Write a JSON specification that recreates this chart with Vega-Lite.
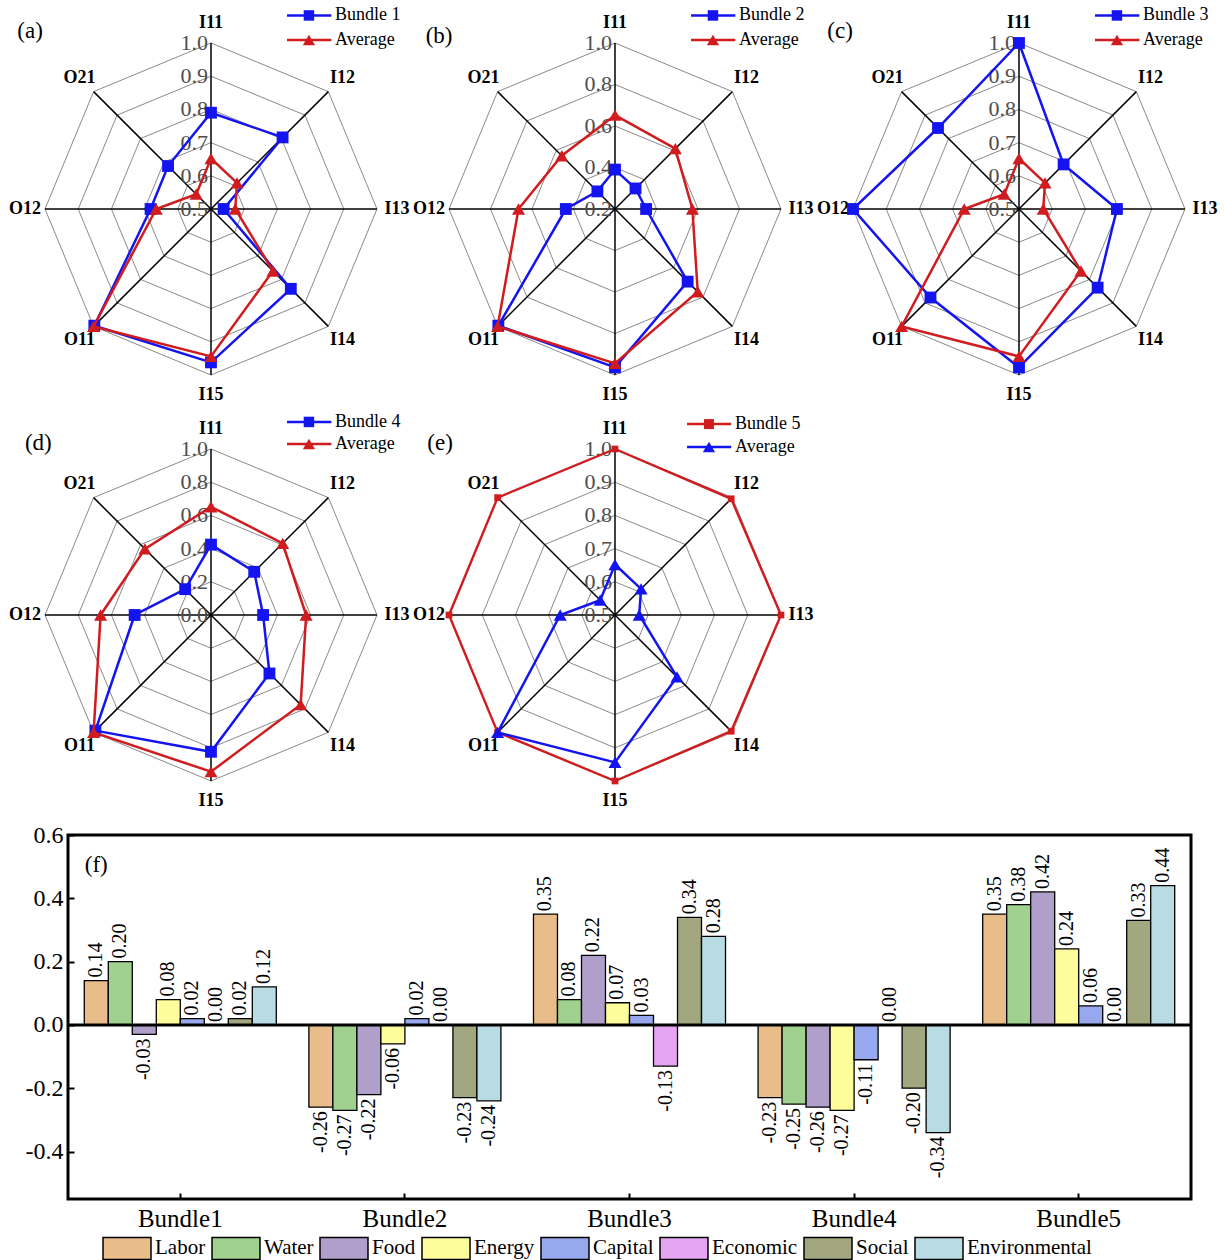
{
"$schema": "https://vega.github.io/schema/vega-lite/v6.json",
"autosize": {"type": "pad"},
"padding": 0,
"background": "white",
"spacing": 0,
"config": {
  "view": {"stroke": null, "fill": "transparent"},
  "font": "Liberation Serif",
  "locale": {"number": {"decimal": ".", "thousands": ",", "grouping": [3], "currency": ["$", ""], "minus": "-"}}
},
"datasets": {
  "axes": [{"axis":"I11"},{"axis":"I12"},{"axis":"I13"},{"axis":"I14"},{"axis":"I15"},{"axis":"O11"},{"axis":"O12"},{"axis":"O21"}],
  "levels": [
    {"panel":"a","level":0.5,"axis":["I11","I12","I13","I14","I15","O11","O12","O21"]},
    {"panel":"a","level":0.6,"axis":["I11","I12","I13","I14","I15","O11","O12","O21"]},
    {"panel":"a","level":0.7,"axis":["I11","I12","I13","I14","I15","O11","O12","O21"]},
    {"panel":"a","level":0.8,"axis":["I11","I12","I13","I14","I15","O11","O12","O21"]},
    {"panel":"a","level":0.9,"axis":["I11","I12","I13","I14","I15","O11","O12","O21"]},
    {"panel":"a","level":1.0,"axis":["I11","I12","I13","I14","I15","O11","O12","O21"]},
    {"panel":"b","level":0.2,"axis":["I11","I12","I13","I14","I15","O11","O12","O21"]},
    {"panel":"b","level":0.4,"axis":["I11","I12","I13","I14","I15","O11","O12","O21"]},
    {"panel":"b","level":0.6,"axis":["I11","I12","I13","I14","I15","O11","O12","O21"]},
    {"panel":"b","level":0.8,"axis":["I11","I12","I13","I14","I15","O11","O12","O21"]},
    {"panel":"b","level":1.0,"axis":["I11","I12","I13","I14","I15","O11","O12","O21"]},
    {"panel":"c","level":0.5,"axis":["I11","I12","I13","I14","I15","O11","O12","O21"]},
    {"panel":"c","level":0.6,"axis":["I11","I12","I13","I14","I15","O11","O12","O21"]},
    {"panel":"c","level":0.7,"axis":["I11","I12","I13","I14","I15","O11","O12","O21"]},
    {"panel":"c","level":0.8,"axis":["I11","I12","I13","I14","I15","O11","O12","O21"]},
    {"panel":"c","level":0.9,"axis":["I11","I12","I13","I14","I15","O11","O12","O21"]},
    {"panel":"c","level":1.0,"axis":["I11","I12","I13","I14","I15","O11","O12","O21"]},
    {"panel":"d","level":0.0,"axis":["I11","I12","I13","I14","I15","O11","O12","O21"]},
    {"panel":"d","level":0.2,"axis":["I11","I12","I13","I14","I15","O11","O12","O21"]},
    {"panel":"d","level":0.4,"axis":["I11","I12","I13","I14","I15","O11","O12","O21"]},
    {"panel":"d","level":0.6,"axis":["I11","I12","I13","I14","I15","O11","O12","O21"]},
    {"panel":"d","level":0.8,"axis":["I11","I12","I13","I14","I15","O11","O12","O21"]},
    {"panel":"d","level":1.0,"axis":["I11","I12","I13","I14","I15","O11","O12","O21"]},
    {"panel":"e","level":0.5,"axis":["I11","I12","I13","I14","I15","O11","O12","O21"]},
    {"panel":"e","level":0.6,"axis":["I11","I12","I13","I14","I15","O11","O12","O21"]},
    {"panel":"e","level":0.7,"axis":["I11","I12","I13","I14","I15","O11","O12","O21"]},
    {"panel":"e","level":0.8,"axis":["I11","I12","I13","I14","I15","O11","O12","O21"]},
    {"panel":"e","level":0.9,"axis":["I11","I12","I13","I14","I15","O11","O12","O21"]},
    {"panel":"e","level":1.0,"axis":["I11","I12","I13","I14","I15","O11","O12","O21"]}
  ],
  "scores": [
    {"panel":"a","series":"Bundle 1","axis":"I11","value":0.79},
    {"panel":"a","series":"Bundle 1","axis":"I12","value":0.805},
    {"panel":"a","series":"Bundle 1","axis":"I13","value":0.538},
    {"panel":"a","series":"Bundle 1","axis":"I14","value":0.84},
    {"panel":"a","series":"Bundle 1","axis":"I15","value":0.962},
    {"panel":"a","series":"Bundle 1","axis":"O11","value":0.997},
    {"panel":"a","series":"Bundle 1","axis":"O12","value":0.682},
    {"panel":"a","series":"Bundle 1","axis":"O21","value":0.683},
    {"panel":"a","series":"Average","axis":"I11","value":0.652},
    {"panel":"a","series":"Average","axis":"I12","value":0.611},
    {"panel":"a","series":"Average","axis":"I13","value":0.573},
    {"panel":"a","series":"Average","axis":"I14","value":0.764},
    {"panel":"a","series":"Average","axis":"I15","value":0.944},
    {"panel":"a","series":"Average","axis":"O11","value":1.0},
    {"panel":"a","series":"Average","axis":"O12","value":0.665},
    {"panel":"a","series":"Average","axis":"O21","value":0.563},
    {"panel":"b","series":"Bundle 2","axis":"I11","value":0.39},
    {"panel":"b","series":"Bundle 2","axis":"I12","value":0.34},
    {"panel":"b","series":"Bundle 2","axis":"I13","value":0.35},
    {"panel":"b","series":"Bundle 2","axis":"I14","value":0.695},
    {"panel":"b","series":"Bundle 2","axis":"I15","value":0.963},
    {"panel":"b","series":"Bundle 2","axis":"O11","value":0.995},
    {"panel":"b","series":"Bundle 2","axis":"O12","value":0.437},
    {"panel":"b","series":"Bundle 2","axis":"O21","value":0.32},
    {"panel":"b","series":"Average","axis":"I11","value":0.652},
    {"panel":"b","series":"Average","axis":"I12","value":0.611},
    {"panel":"b","series":"Average","axis":"I13","value":0.573},
    {"panel":"b","series":"Average","axis":"I14","value":0.764},
    {"panel":"b","series":"Average","axis":"I15","value":0.944},
    {"panel":"b","series":"Average","axis":"O11","value":1.0},
    {"panel":"b","series":"Average","axis":"O12","value":0.665},
    {"panel":"b","series":"Average","axis":"O21","value":0.563},
    {"panel":"c","series":"Bundle 3","axis":"I11","value":1.0},
    {"panel":"c","series":"Bundle 3","axis":"I12","value":0.69},
    {"panel":"c","series":"Bundle 3","axis":"I13","value":0.795},
    {"panel":"c","series":"Bundle 3","axis":"I14","value":0.835},
    {"panel":"c","series":"Bundle 3","axis":"I15","value":0.977},
    {"panel":"c","series":"Bundle 3","axis":"O11","value":0.877},
    {"panel":"c","series":"Bundle 3","axis":"O12","value":1.0},
    {"panel":"c","series":"Bundle 3","axis":"O21","value":0.845},
    {"panel":"c","series":"Average","axis":"I11","value":0.652},
    {"panel":"c","series":"Average","axis":"I12","value":0.611},
    {"panel":"c","series":"Average","axis":"I13","value":0.573},
    {"panel":"c","series":"Average","axis":"I14","value":0.764},
    {"panel":"c","series":"Average","axis":"I15","value":0.944},
    {"panel":"c","series":"Average","axis":"O11","value":1.0},
    {"panel":"c","series":"Average","axis":"O12","value":0.665},
    {"panel":"c","series":"Average","axis":"O21","value":0.563},
    {"panel":"d","series":"Bundle 4","axis":"I11","value":0.424},
    {"panel":"d","series":"Bundle 4","axis":"I12","value":0.368},
    {"panel":"d","series":"Bundle 4","axis":"I13","value":0.314},
    {"panel":"d","series":"Bundle 4","axis":"I14","value":0.498},
    {"panel":"d","series":"Bundle 4","axis":"I15","value":0.824},
    {"panel":"d","series":"Bundle 4","axis":"O11","value":0.985},
    {"panel":"d","series":"Bundle 4","axis":"O12","value":0.46},
    {"panel":"d","series":"Bundle 4","axis":"O21","value":0.22},
    {"panel":"d","series":"Average","axis":"I11","value":0.652},
    {"panel":"d","series":"Average","axis":"I12","value":0.611},
    {"panel":"d","series":"Average","axis":"I13","value":0.573},
    {"panel":"d","series":"Average","axis":"I14","value":0.764},
    {"panel":"d","series":"Average","axis":"I15","value":0.944},
    {"panel":"d","series":"Average","axis":"O11","value":1.0},
    {"panel":"d","series":"Average","axis":"O12","value":0.665},
    {"panel":"d","series":"Average","axis":"O21","value":0.563},
    {"panel":"e","series":"Bundle 5","axis":"I11","value":1.0},
    {"panel":"e","series":"Bundle 5","axis":"I12","value":0.995},
    {"panel":"e","series":"Bundle 5","axis":"I13","value":1.0},
    {"panel":"e","series":"Bundle 5","axis":"I14","value":0.995},
    {"panel":"e","series":"Bundle 5","axis":"I15","value":1.0},
    {"panel":"e","series":"Bundle 5","axis":"O11","value":1.0},
    {"panel":"e","series":"Bundle 5","axis":"O12","value":1.0},
    {"panel":"e","series":"Bundle 5","axis":"O21","value":1.0},
    {"panel":"e","series":"Average","axis":"I11","value":0.652},
    {"panel":"e","series":"Average","axis":"I12","value":0.611},
    {"panel":"e","series":"Average","axis":"I13","value":0.573},
    {"panel":"e","series":"Average","axis":"I14","value":0.764},
    {"panel":"e","series":"Average","axis":"I15","value":0.944},
    {"panel":"e","series":"Average","axis":"O11","value":1.0},
    {"panel":"e","series":"Average","axis":"O12","value":0.665},
    {"panel":"e","series":"Average","axis":"O21","value":0.563}
  ],
  "bars": [
    {"bundle":"Bundle1","category":"Labor","value":0.14},
    {"bundle":"Bundle1","category":"Water","value":0.20},
    {"bundle":"Bundle1","category":"Food","value":-0.03},
    {"bundle":"Bundle1","category":"Energy","value":0.08},
    {"bundle":"Bundle1","category":"Capital","value":0.02},
    {"bundle":"Bundle1","category":"Economic","value":0.00},
    {"bundle":"Bundle1","category":"Social","value":0.02},
    {"bundle":"Bundle1","category":"Environmental","value":0.12},
    {"bundle":"Bundle2","category":"Labor","value":-0.26},
    {"bundle":"Bundle2","category":"Water","value":-0.27},
    {"bundle":"Bundle2","category":"Food","value":-0.22},
    {"bundle":"Bundle2","category":"Energy","value":-0.06},
    {"bundle":"Bundle2","category":"Capital","value":0.02},
    {"bundle":"Bundle2","category":"Economic","value":0.00},
    {"bundle":"Bundle2","category":"Social","value":-0.23},
    {"bundle":"Bundle2","category":"Environmental","value":-0.24},
    {"bundle":"Bundle3","category":"Labor","value":0.35},
    {"bundle":"Bundle3","category":"Water","value":0.08},
    {"bundle":"Bundle3","category":"Food","value":0.22},
    {"bundle":"Bundle3","category":"Energy","value":0.07},
    {"bundle":"Bundle3","category":"Capital","value":0.03},
    {"bundle":"Bundle3","category":"Economic","value":-0.13},
    {"bundle":"Bundle3","category":"Social","value":0.34},
    {"bundle":"Bundle3","category":"Environmental","value":0.28},
    {"bundle":"Bundle4","category":"Labor","value":-0.23},
    {"bundle":"Bundle4","category":"Water","value":-0.25},
    {"bundle":"Bundle4","category":"Food","value":-0.26},
    {"bundle":"Bundle4","category":"Energy","value":-0.27},
    {"bundle":"Bundle4","category":"Capital","value":-0.11},
    {"bundle":"Bundle4","category":"Economic","value":0.00},
    {"bundle":"Bundle4","category":"Social","value":-0.20},
    {"bundle":"Bundle4","category":"Environmental","value":-0.34},
    {"bundle":"Bundle5","category":"Labor","value":0.35},
    {"bundle":"Bundle5","category":"Water","value":0.38},
    {"bundle":"Bundle5","category":"Food","value":0.42},
    {"bundle":"Bundle5","category":"Energy","value":0.24},
    {"bundle":"Bundle5","category":"Capital","value":0.06},
    {"bundle":"Bundle5","category":"Economic","value":0.00},
    {"bundle":"Bundle5","category":"Social","value":0.33},
    {"bundle":"Bundle5","category":"Environmental","value":0.44}
  ]
},
"vconcat": [
 {"hconcat": [
  {"width": 404, "height": 406,
   "encoding": {
     "x": {"field":"px","type":"quantitative","scale":{"domain":[-1.2711,1.1627],"nice":false,"zero":false},"axis":null},
     "y": {"field":"py","type":"quantitative","scale":{"domain":[-1.1867,1.259],"nice":false,"zero":false},"axis":null}
   },
   "layer": [
    {"data":{"name":"levels"},
     "transform":[{"filter":"datum.panel == 'a' && datum.level > 0.5"},{"flatten":["axis"]},
       {"calculate":"indexof(['I11','I12','I13','I14','I15','O11','O12','O21'], datum.axis)","as":"gi"},
       {"calculate":"(datum.level - 0.5) / 0.5 * sin(datum.gi * PI / 4)","as":"gx"},
       {"calculate":"(datum.level - 0.5) / 0.5 * cos(datum.gi * PI / 4)","as":"gy"}],
     "mark":{"type":"line","interpolate":"linear-closed","color":"#8a8a8a","strokeWidth":1},
     "encoding":{"x":{"field":"gx","type":"quantitative","axis":null},"y":{"field":"gy","type":"quantitative","axis":null},"detail":{"field":"level","type":"nominal"},"order":{"field":"gi","type":"quantitative"}}},
    {"data":{"name":"axes"},
     "transform":[{"calculate":"indexof(['I11','I12','I13','I14','I15','O11','O12','O21'], datum.axis)","as":"si"},
       {"calculate":"0","as":"so"},{"calculate":"sin(datum.si * PI / 4)","as":"sx"},{"calculate":"cos(datum.si * PI / 4)","as":"sy"}],
     "mark":{"type":"rule","color":"black","strokeWidth":1.5},
     "encoding":{"x":{"field":"so","type":"quantitative","axis":null},"y":{"field":"so","type":"quantitative","axis":null},"x2":{"field":"sx"},"y2":{"field":"sy"}}},
    {"data":{"name":"levels"},
     "transform":[{"filter":"datum.panel == 'a'"},{"calculate":"0","as":"tx"},{"calculate":"(datum.level - 0.5) / 0.5","as":"ty"}],
     "mark":{"type":"text","align":"right","baseline":"middle","dx":-3,"font":"Liberation Serif","fontSize":22,"color":"#4d4d4d"},
     "encoding":{"x":{"field":"tx","type":"quantitative","axis":null},"y":{"field":"ty","type":"quantitative","axis":null},"text":{"field":"level","type":"quantitative","format":".1f"}}},
    {"data":{"name":"axes"},
     "transform":[{"calculate":"indexof(['I11','I12','I13','I14','I15','O11','O12','O21'], datum.axis)","as":"li"},
       {"calculate":"1.12 * sin(datum.li * PI / 4)","as":"lx"},{"calculate":"1.12 * cos(datum.li * PI / 4)","as":"ly"}],
     "mark":{"type":"text","align":"center","baseline":"middle","font":"Liberation Serif","fontSize":18,"fontWeight":"bold","color":"black"},
     "encoding":{"x":{"field":"lx","type":"quantitative","axis":null},"y":{"field":"ly","type":"quantitative","axis":null},"text":{"field":"axis","type":"nominal"}}},
    {"data":{"name":"scores"},
     "transform":[{"filter":"datum.panel == 'a'"},
       {"calculate":"indexof(['I11','I12','I13','I14','I15','O11','O12','O21'], datum.axis)","as":"idx"},
       {"calculate":"(datum.value - 0.5) / 0.5","as":"r"},
       {"calculate":"datum.r * sin(datum.idx * PI / 4)","as":"px"},
       {"calculate":"datum.r * cos(datum.idx * PI / 4)","as":"py"}],
     "layer":[
       {"transform":[{"filter":"datum.series != 'Average'"}],"mark":{"type":"line","interpolate":"linear-closed","color":"#1414F0","strokeWidth":2.5},"encoding":{"order":{"field":"idx","type":"quantitative"}}},
       {"transform":[{"filter":"datum.series != 'Average'"}],"mark":{"type":"point","shape":"square","filled":true,"size":140,"color":"#1414F0","opacity":1}},
       {"transform":[{"filter":"datum.series == 'Average'"}],"mark":{"type":"line","interpolate":"linear-closed","color":"#D01C1F","strokeWidth":2.5},"encoding":{"order":{"field":"idx","type":"quantitative"}}},
       {"transform":[{"filter":"datum.series == 'Average'"}],"mark":{"type":"point","shape":"triangle-up","filled":true,"size":170,"color":"#D01C1F","opacity":1}}
     ]},
    {"data":{"values":[{"bundle":"Bundle 1","average":"Average","tag":"(a)"}]},
     "transform":[{"calculate":"0.458","as":"k1"},{"calculate":"0.725","as":"k2"},{"calculate":"0.59","as":"km"},{"calculate":"0.747","as":"kt"},
       {"calculate":"1.166","as":"kb"},{"calculate":"1.018","as":"ka"},{"calculate":"-1.09","as":"kx"},{"calculate":"1.07","as":"ky"}],
     "layer":[
       {"mark":{"type":"rule","color":"#1414F0","strokeWidth":2.5},"encoding":{"x":{"field":"k1","type":"quantitative","axis":null},"x2":{"field":"k2"},"y":{"field":"kb","type":"quantitative","axis":null}}},
       {"mark":{"type":"point","shape":"square","filled":true,"size":110,"color":"#1414F0","opacity":1},"encoding":{"x":{"field":"km","type":"quantitative","axis":null},"y":{"field":"kb","type":"quantitative","axis":null}}},
       {"mark":{"type":"text","align":"left","baseline":"middle","font":"Liberation Serif","fontSize":18,"color":"black"},"encoding":{"x":{"field":"kt","type":"quantitative","axis":null},"y":{"field":"kb","type":"quantitative","axis":null},"text":{"field":"bundle","type":"nominal"}}},
       {"mark":{"type":"rule","color":"#D01C1F","strokeWidth":2.5},"encoding":{"x":{"field":"k1","type":"quantitative","axis":null},"x2":{"field":"k2"},"y":{"field":"ka","type":"quantitative","axis":null}}},
       {"mark":{"type":"point","shape":"triangle-up","filled":true,"size":150,"color":"#D01C1F","opacity":1},"encoding":{"x":{"field":"km","type":"quantitative","axis":null},"y":{"field":"ka","type":"quantitative","axis":null}}},
       {"mark":{"type":"text","align":"left","baseline":"middle","font":"Liberation Serif","fontSize":18,"color":"black"},"encoding":{"x":{"field":"kt","type":"quantitative","axis":null},"y":{"field":"ka","type":"quantitative","axis":null},"text":{"field":"average","type":"nominal"}}},
       {"mark":{"type":"text","align":"center","baseline":"middle","font":"Liberation Serif","fontSize":23,"color":"black"},"encoding":{"x":{"field":"kx","type":"quantitative","axis":null},"y":{"field":"ky","type":"quantitative","axis":null},"text":{"field":"tag","type":"nominal"}}}
     ]}
   ]},
  {"width": 404, "height": 406,
   "encoding": {
     "x": {"field":"px","type":"quantitative","scale":{"domain":[-1.2711,1.1627],"nice":false,"zero":false},"axis":null},
     "y": {"field":"py","type":"quantitative","scale":{"domain":[-1.1867,1.259],"nice":false,"zero":false},"axis":null}
   },
   "layer": [
    {"data":{"name":"levels"},
     "transform":[{"filter":"datum.panel == 'b' && datum.level > 0.2"},{"flatten":["axis"]},
       {"calculate":"indexof(['I11','I12','I13','I14','I15','O11','O12','O21'], datum.axis)","as":"gi"},
       {"calculate":"(datum.level - 0.2) / 0.8 * sin(datum.gi * PI / 4)","as":"gx"},
       {"calculate":"(datum.level - 0.2) / 0.8 * cos(datum.gi * PI / 4)","as":"gy"}],
     "mark":{"type":"line","interpolate":"linear-closed","color":"#8a8a8a","strokeWidth":1},
     "encoding":{"x":{"field":"gx","type":"quantitative","axis":null},"y":{"field":"gy","type":"quantitative","axis":null},"detail":{"field":"level","type":"nominal"},"order":{"field":"gi","type":"quantitative"}}},
    {"data":{"name":"axes"},
     "transform":[{"calculate":"indexof(['I11','I12','I13','I14','I15','O11','O12','O21'], datum.axis)","as":"si"},
       {"calculate":"0","as":"so"},{"calculate":"sin(datum.si * PI / 4)","as":"sx"},{"calculate":"cos(datum.si * PI / 4)","as":"sy"}],
     "mark":{"type":"rule","color":"black","strokeWidth":1.5},
     "encoding":{"x":{"field":"so","type":"quantitative","axis":null},"y":{"field":"so","type":"quantitative","axis":null},"x2":{"field":"sx"},"y2":{"field":"sy"}}},
    {"data":{"name":"levels"},
     "transform":[{"filter":"datum.panel == 'b'"},{"calculate":"0","as":"tx"},{"calculate":"(datum.level - 0.2) / 0.8","as":"ty"}],
     "mark":{"type":"text","align":"right","baseline":"middle","dx":-3,"font":"Liberation Serif","fontSize":22,"color":"#4d4d4d"},
     "encoding":{"x":{"field":"tx","type":"quantitative","axis":null},"y":{"field":"ty","type":"quantitative","axis":null},"text":{"field":"level","type":"quantitative","format":".1f"}}},
    {"data":{"name":"axes"},
     "transform":[{"calculate":"indexof(['I11','I12','I13','I14','I15','O11','O12','O21'], datum.axis)","as":"li"},
       {"calculate":"1.12 * sin(datum.li * PI / 4)","as":"lx"},{"calculate":"1.12 * cos(datum.li * PI / 4)","as":"ly"}],
     "mark":{"type":"text","align":"center","baseline":"middle","font":"Liberation Serif","fontSize":18,"fontWeight":"bold","color":"black"},
     "encoding":{"x":{"field":"lx","type":"quantitative","axis":null},"y":{"field":"ly","type":"quantitative","axis":null},"text":{"field":"axis","type":"nominal"}}},
    {"data":{"name":"scores"},
     "transform":[{"filter":"datum.panel == 'b'"},
       {"calculate":"indexof(['I11','I12','I13','I14','I15','O11','O12','O21'], datum.axis)","as":"idx"},
       {"calculate":"(datum.value - 0.2) / 0.8","as":"r"},
       {"calculate":"datum.r * sin(datum.idx * PI / 4)","as":"px"},
       {"calculate":"datum.r * cos(datum.idx * PI / 4)","as":"py"}],
     "layer":[
       {"transform":[{"filter":"datum.series != 'Average'"}],"mark":{"type":"line","interpolate":"linear-closed","color":"#1414F0","strokeWidth":2.5},"encoding":{"order":{"field":"idx","type":"quantitative"}}},
       {"transform":[{"filter":"datum.series != 'Average'"}],"mark":{"type":"point","shape":"square","filled":true,"size":140,"color":"#1414F0","opacity":1}},
       {"transform":[{"filter":"datum.series == 'Average'"}],"mark":{"type":"line","interpolate":"linear-closed","color":"#D01C1F","strokeWidth":2.5},"encoding":{"order":{"field":"idx","type":"quantitative"}}},
       {"transform":[{"filter":"datum.series == 'Average'"}],"mark":{"type":"point","shape":"triangle-up","filled":true,"size":170,"color":"#D01C1F","opacity":1}}
     ]},
    {"data":{"values":[{"bundle":"Bundle 2","average":"Average","tag":"(b)"}]},
     "transform":[{"calculate":"0.458","as":"k1"},{"calculate":"0.725","as":"k2"},{"calculate":"0.59","as":"km"},{"calculate":"0.747","as":"kt"},
       {"calculate":"1.166","as":"kb"},{"calculate":"1.018","as":"ka"},{"calculate":"-1.06","as":"kx"},{"calculate":"1.04","as":"ky"}],
     "layer":[
       {"mark":{"type":"rule","color":"#1414F0","strokeWidth":2.5},"encoding":{"x":{"field":"k1","type":"quantitative","axis":null},"x2":{"field":"k2"},"y":{"field":"kb","type":"quantitative","axis":null}}},
       {"mark":{"type":"point","shape":"square","filled":true,"size":110,"color":"#1414F0","opacity":1},"encoding":{"x":{"field":"km","type":"quantitative","axis":null},"y":{"field":"kb","type":"quantitative","axis":null}}},
       {"mark":{"type":"text","align":"left","baseline":"middle","font":"Liberation Serif","fontSize":18,"color":"black"},"encoding":{"x":{"field":"kt","type":"quantitative","axis":null},"y":{"field":"kb","type":"quantitative","axis":null},"text":{"field":"bundle","type":"nominal"}}},
       {"mark":{"type":"rule","color":"#D01C1F","strokeWidth":2.5},"encoding":{"x":{"field":"k1","type":"quantitative","axis":null},"x2":{"field":"k2"},"y":{"field":"ka","type":"quantitative","axis":null}}},
       {"mark":{"type":"point","shape":"triangle-up","filled":true,"size":150,"color":"#D01C1F","opacity":1},"encoding":{"x":{"field":"km","type":"quantitative","axis":null},"y":{"field":"ka","type":"quantitative","axis":null}}},
       {"mark":{"type":"text","align":"left","baseline":"middle","font":"Liberation Serif","fontSize":18,"color":"black"},"encoding":{"x":{"field":"kt","type":"quantitative","axis":null},"y":{"field":"ka","type":"quantitative","axis":null},"text":{"field":"average","type":"nominal"}}},
       {"mark":{"type":"text","align":"center","baseline":"middle","font":"Liberation Serif","fontSize":23,"color":"black"},"encoding":{"x":{"field":"kx","type":"quantitative","axis":null},"y":{"field":"ky","type":"quantitative","axis":null},"text":{"field":"tag","type":"nominal"}}}
     ]}
   ]},
  {"width": 404, "height": 406,
   "encoding": {
     "x": {"field":"px","type":"quantitative","scale":{"domain":[-1.2711,1.1627],"nice":false,"zero":false},"axis":null},
     "y": {"field":"py","type":"quantitative","scale":{"domain":[-1.1867,1.259],"nice":false,"zero":false},"axis":null}
   },
   "layer": [
    {"data":{"name":"levels"},
     "transform":[{"filter":"datum.panel == 'c' && datum.level > 0.5"},{"flatten":["axis"]},
       {"calculate":"indexof(['I11','I12','I13','I14','I15','O11','O12','O21'], datum.axis)","as":"gi"},
       {"calculate":"(datum.level - 0.5) / 0.5 * sin(datum.gi * PI / 4)","as":"gx"},
       {"calculate":"(datum.level - 0.5) / 0.5 * cos(datum.gi * PI / 4)","as":"gy"}],
     "mark":{"type":"line","interpolate":"linear-closed","color":"#8a8a8a","strokeWidth":1},
     "encoding":{"x":{"field":"gx","type":"quantitative","axis":null},"y":{"field":"gy","type":"quantitative","axis":null},"detail":{"field":"level","type":"nominal"},"order":{"field":"gi","type":"quantitative"}}},
    {"data":{"name":"axes"},
     "transform":[{"calculate":"indexof(['I11','I12','I13','I14','I15','O11','O12','O21'], datum.axis)","as":"si"},
       {"calculate":"0","as":"so"},{"calculate":"sin(datum.si * PI / 4)","as":"sx"},{"calculate":"cos(datum.si * PI / 4)","as":"sy"}],
     "mark":{"type":"rule","color":"black","strokeWidth":1.5},
     "encoding":{"x":{"field":"so","type":"quantitative","axis":null},"y":{"field":"so","type":"quantitative","axis":null},"x2":{"field":"sx"},"y2":{"field":"sy"}}},
    {"data":{"name":"levels"},
     "transform":[{"filter":"datum.panel == 'c'"},{"calculate":"0","as":"tx"},{"calculate":"(datum.level - 0.5) / 0.5","as":"ty"}],
     "mark":{"type":"text","align":"right","baseline":"middle","dx":-3,"font":"Liberation Serif","fontSize":22,"color":"#4d4d4d"},
     "encoding":{"x":{"field":"tx","type":"quantitative","axis":null},"y":{"field":"ty","type":"quantitative","axis":null},"text":{"field":"level","type":"quantitative","format":".1f"}}},
    {"data":{"name":"axes"},
     "transform":[{"calculate":"indexof(['I11','I12','I13','I14','I15','O11','O12','O21'], datum.axis)","as":"li"},
       {"calculate":"1.12 * sin(datum.li * PI / 4)","as":"lx"},{"calculate":"1.12 * cos(datum.li * PI / 4)","as":"ly"}],
     "mark":{"type":"text","align":"center","baseline":"middle","font":"Liberation Serif","fontSize":18,"fontWeight":"bold","color":"black"},
     "encoding":{"x":{"field":"lx","type":"quantitative","axis":null},"y":{"field":"ly","type":"quantitative","axis":null},"text":{"field":"axis","type":"nominal"}}},
    {"data":{"name":"scores"},
     "transform":[{"filter":"datum.panel == 'c'"},
       {"calculate":"indexof(['I11','I12','I13','I14','I15','O11','O12','O21'], datum.axis)","as":"idx"},
       {"calculate":"(datum.value - 0.5) / 0.5","as":"r"},
       {"calculate":"datum.r * sin(datum.idx * PI / 4)","as":"px"},
       {"calculate":"datum.r * cos(datum.idx * PI / 4)","as":"py"}],
     "layer":[
       {"transform":[{"filter":"datum.series != 'Average'"}],"mark":{"type":"line","interpolate":"linear-closed","color":"#1414F0","strokeWidth":2.5},"encoding":{"order":{"field":"idx","type":"quantitative"}}},
       {"transform":[{"filter":"datum.series != 'Average'"}],"mark":{"type":"point","shape":"square","filled":true,"size":140,"color":"#1414F0","opacity":1}},
       {"transform":[{"filter":"datum.series == 'Average'"}],"mark":{"type":"line","interpolate":"linear-closed","color":"#D01C1F","strokeWidth":2.5},"encoding":{"order":{"field":"idx","type":"quantitative"}}},
       {"transform":[{"filter":"datum.series == 'Average'"}],"mark":{"type":"point","shape":"triangle-up","filled":true,"size":170,"color":"#D01C1F","opacity":1}}
     ]},
    {"data":{"values":[{"bundle":"Bundle 3","average":"Average","tag":"(c)"}]},
     "transform":[{"calculate":"0.458","as":"k1"},{"calculate":"0.725","as":"k2"},{"calculate":"0.59","as":"km"},{"calculate":"0.747","as":"kt"},
       {"calculate":"1.166","as":"kb"},{"calculate":"1.018","as":"ka"},{"calculate":"-1.078","as":"kx"},{"calculate":"1.07","as":"ky"}],
     "layer":[
       {"mark":{"type":"rule","color":"#1414F0","strokeWidth":2.5},"encoding":{"x":{"field":"k1","type":"quantitative","axis":null},"x2":{"field":"k2"},"y":{"field":"kb","type":"quantitative","axis":null}}},
       {"mark":{"type":"point","shape":"square","filled":true,"size":110,"color":"#1414F0","opacity":1},"encoding":{"x":{"field":"km","type":"quantitative","axis":null},"y":{"field":"kb","type":"quantitative","axis":null}}},
       {"mark":{"type":"text","align":"left","baseline":"middle","font":"Liberation Serif","fontSize":18,"color":"black"},"encoding":{"x":{"field":"kt","type":"quantitative","axis":null},"y":{"field":"kb","type":"quantitative","axis":null},"text":{"field":"bundle","type":"nominal"}}},
       {"mark":{"type":"rule","color":"#D01C1F","strokeWidth":2.5},"encoding":{"x":{"field":"k1","type":"quantitative","axis":null},"x2":{"field":"k2"},"y":{"field":"ka","type":"quantitative","axis":null}}},
       {"mark":{"type":"point","shape":"triangle-up","filled":true,"size":150,"color":"#D01C1F","opacity":1},"encoding":{"x":{"field":"km","type":"quantitative","axis":null},"y":{"field":"ka","type":"quantitative","axis":null}}},
       {"mark":{"type":"text","align":"left","baseline":"middle","font":"Liberation Serif","fontSize":18,"color":"black"},"encoding":{"x":{"field":"kt","type":"quantitative","axis":null},"y":{"field":"ka","type":"quantitative","axis":null},"text":{"field":"average","type":"nominal"}}},
       {"mark":{"type":"text","align":"center","baseline":"middle","font":"Liberation Serif","fontSize":23,"color":"black"},"encoding":{"x":{"field":"kx","type":"quantitative","axis":null},"y":{"field":"ky","type":"quantitative","axis":null},"text":{"field":"tag","type":"nominal"}}}
     ]}
   ]}
 ], "spacing": 0, "bounds": "flush"},
 {"hconcat": [
  {"width": 404, "height": 415,
   "encoding": {
     "x": {"field":"px","type":"quantitative","scale":{"domain":[-1.2711,1.1627],"nice":false,"zero":false},"axis":null},
     "y": {"field":"py","type":"quantitative","scale":{"domain":[-1.241,1.259],"nice":false,"zero":false},"axis":null}
   },
   "layer": [
    {"data":{"name":"levels"},
     "transform":[{"filter":"datum.panel == 'd' && datum.level > 0"},{"flatten":["axis"]},
       {"calculate":"indexof(['I11','I12','I13','I14','I15','O11','O12','O21'], datum.axis)","as":"gi"},
       {"calculate":"datum.level * sin(datum.gi * PI / 4)","as":"gx"},
       {"calculate":"datum.level * cos(datum.gi * PI / 4)","as":"gy"}],
     "mark":{"type":"line","interpolate":"linear-closed","color":"#8a8a8a","strokeWidth":1},
     "encoding":{"x":{"field":"gx","type":"quantitative","axis":null},"y":{"field":"gy","type":"quantitative","axis":null},"detail":{"field":"level","type":"nominal"},"order":{"field":"gi","type":"quantitative"}}},
    {"data":{"name":"axes"},
     "transform":[{"calculate":"indexof(['I11','I12','I13','I14','I15','O11','O12','O21'], datum.axis)","as":"si"},
       {"calculate":"0","as":"so"},{"calculate":"sin(datum.si * PI / 4)","as":"sx"},{"calculate":"cos(datum.si * PI / 4)","as":"sy"}],
     "mark":{"type":"rule","color":"black","strokeWidth":1.5},
     "encoding":{"x":{"field":"so","type":"quantitative","axis":null},"y":{"field":"so","type":"quantitative","axis":null},"x2":{"field":"sx"},"y2":{"field":"sy"}}},
    {"data":{"name":"levels"},
     "transform":[{"filter":"datum.panel == 'd'"},{"calculate":"0","as":"tx"},{"calculate":"datum.level","as":"ty"}],
     "mark":{"type":"text","align":"right","baseline":"middle","dx":-3,"font":"Liberation Serif","fontSize":22,"color":"#4d4d4d"},
     "encoding":{"x":{"field":"tx","type":"quantitative","axis":null},"y":{"field":"ty","type":"quantitative","axis":null},"text":{"field":"level","type":"quantitative","format":".1f"}}},
    {"data":{"name":"axes"},
     "transform":[{"calculate":"indexof(['I11','I12','I13','I14','I15','O11','O12','O21'], datum.axis)","as":"li"},
       {"calculate":"1.12 * sin(datum.li * PI / 4)","as":"lx"},{"calculate":"1.12 * cos(datum.li * PI / 4)","as":"ly"}],
     "mark":{"type":"text","align":"center","baseline":"middle","font":"Liberation Serif","fontSize":18,"fontWeight":"bold","color":"black"},
     "encoding":{"x":{"field":"lx","type":"quantitative","axis":null},"y":{"field":"ly","type":"quantitative","axis":null},"text":{"field":"axis","type":"nominal"}}},
    {"data":{"name":"scores"},
     "transform":[{"filter":"datum.panel == 'd'"},
       {"calculate":"indexof(['I11','I12','I13','I14','I15','O11','O12','O21'], datum.axis)","as":"idx"},
       {"calculate":"datum.value","as":"r"},
       {"calculate":"datum.r * sin(datum.idx * PI / 4)","as":"px"},
       {"calculate":"datum.r * cos(datum.idx * PI / 4)","as":"py"}],
     "layer":[
       {"transform":[{"filter":"datum.series != 'Average'"}],"mark":{"type":"line","interpolate":"linear-closed","color":"#1414F0","strokeWidth":2.5},"encoding":{"order":{"field":"idx","type":"quantitative"}}},
       {"transform":[{"filter":"datum.series != 'Average'"}],"mark":{"type":"point","shape":"square","filled":true,"size":140,"color":"#1414F0","opacity":1}},
       {"transform":[{"filter":"datum.series == 'Average'"}],"mark":{"type":"line","interpolate":"linear-closed","color":"#D01C1F","strokeWidth":2.5},"encoding":{"order":{"field":"idx","type":"quantitative"}}},
       {"transform":[{"filter":"datum.series == 'Average'"}],"mark":{"type":"point","shape":"triangle-up","filled":true,"size":170,"color":"#D01C1F","opacity":1}}
     ]},
    {"data":{"values":[{"bundle":"Bundle 4","average":"Average","tag":"(d)"}]},
     "transform":[{"calculate":"0.458","as":"k1"},{"calculate":"0.725","as":"k2"},{"calculate":"0.59","as":"km"},{"calculate":"0.747","as":"kt"},
       {"calculate":"1.163","as":"kb"},{"calculate":"1.03","as":"ka"},{"calculate":"-1.04","as":"kx"},{"calculate":"1.036","as":"ky"}],
     "layer":[
       {"mark":{"type":"rule","color":"#1414F0","strokeWidth":2.5},"encoding":{"x":{"field":"k1","type":"quantitative","axis":null},"x2":{"field":"k2"},"y":{"field":"kb","type":"quantitative","axis":null}}},
       {"mark":{"type":"point","shape":"square","filled":true,"size":110,"color":"#1414F0","opacity":1},"encoding":{"x":{"field":"km","type":"quantitative","axis":null},"y":{"field":"kb","type":"quantitative","axis":null}}},
       {"mark":{"type":"text","align":"left","baseline":"middle","font":"Liberation Serif","fontSize":18,"color":"black"},"encoding":{"x":{"field":"kt","type":"quantitative","axis":null},"y":{"field":"kb","type":"quantitative","axis":null},"text":{"field":"bundle","type":"nominal"}}},
       {"mark":{"type":"rule","color":"#D01C1F","strokeWidth":2.5},"encoding":{"x":{"field":"k1","type":"quantitative","axis":null},"x2":{"field":"k2"},"y":{"field":"ka","type":"quantitative","axis":null}}},
       {"mark":{"type":"point","shape":"triangle-up","filled":true,"size":150,"color":"#D01C1F","opacity":1},"encoding":{"x":{"field":"km","type":"quantitative","axis":null},"y":{"field":"ka","type":"quantitative","axis":null}}},
       {"mark":{"type":"text","align":"left","baseline":"middle","font":"Liberation Serif","fontSize":18,"color":"black"},"encoding":{"x":{"field":"kt","type":"quantitative","axis":null},"y":{"field":"ka","type":"quantitative","axis":null},"text":{"field":"average","type":"nominal"}}},
       {"mark":{"type":"text","align":"center","baseline":"middle","font":"Liberation Serif","fontSize":23,"color":"black"},"encoding":{"x":{"field":"kx","type":"quantitative","axis":null},"y":{"field":"ky","type":"quantitative","axis":null},"text":{"field":"tag","type":"nominal"}}}
     ]}
   ]},
  {"width": 404, "height": 415,
   "encoding": {
     "x": {"field":"px","type":"quantitative","scale":{"domain":[-1.2711,1.1627],"nice":false,"zero":false},"axis":null},
     "y": {"field":"py","type":"quantitative","scale":{"domain":[-1.241,1.259],"nice":false,"zero":false},"axis":null}
   },
   "layer": [
    {"data":{"name":"levels"},
     "transform":[{"filter":"datum.panel == 'e' && datum.level > 0.5"},{"flatten":["axis"]},
       {"calculate":"indexof(['I11','I12','I13','I14','I15','O11','O12','O21'], datum.axis)","as":"gi"},
       {"calculate":"(datum.level - 0.5) / 0.5 * sin(datum.gi * PI / 4)","as":"gx"},
       {"calculate":"(datum.level - 0.5) / 0.5 * cos(datum.gi * PI / 4)","as":"gy"}],
     "mark":{"type":"line","interpolate":"linear-closed","color":"#8a8a8a","strokeWidth":1},
     "encoding":{"x":{"field":"gx","type":"quantitative","axis":null},"y":{"field":"gy","type":"quantitative","axis":null},"detail":{"field":"level","type":"nominal"},"order":{"field":"gi","type":"quantitative"}}},
    {"data":{"name":"axes"},
     "transform":[{"calculate":"indexof(['I11','I12','I13','I14','I15','O11','O12','O21'], datum.axis)","as":"si"},
       {"calculate":"0","as":"so"},{"calculate":"sin(datum.si * PI / 4)","as":"sx"},{"calculate":"cos(datum.si * PI / 4)","as":"sy"}],
     "mark":{"type":"rule","color":"black","strokeWidth":1.5},
     "encoding":{"x":{"field":"so","type":"quantitative","axis":null},"y":{"field":"so","type":"quantitative","axis":null},"x2":{"field":"sx"},"y2":{"field":"sy"}}},
    {"data":{"name":"levels"},
     "transform":[{"filter":"datum.panel == 'e'"},{"calculate":"0","as":"tx"},{"calculate":"(datum.level - 0.5) / 0.5","as":"ty"}],
     "mark":{"type":"text","align":"right","baseline":"middle","dx":-3,"font":"Liberation Serif","fontSize":22,"color":"#4d4d4d"},
     "encoding":{"x":{"field":"tx","type":"quantitative","axis":null},"y":{"field":"ty","type":"quantitative","axis":null},"text":{"field":"level","type":"quantitative","format":".1f"}}},
    {"data":{"name":"axes"},
     "transform":[{"calculate":"indexof(['I11','I12','I13','I14','I15','O11','O12','O21'], datum.axis)","as":"li"},
       {"calculate":"1.12 * sin(datum.li * PI / 4)","as":"lx"},{"calculate":"1.12 * cos(datum.li * PI / 4)","as":"ly"}],
     "mark":{"type":"text","align":"center","baseline":"middle","font":"Liberation Serif","fontSize":18,"fontWeight":"bold","color":"black"},
     "encoding":{"x":{"field":"lx","type":"quantitative","axis":null},"y":{"field":"ly","type":"quantitative","axis":null},"text":{"field":"axis","type":"nominal"}}},
    {"data":{"name":"scores"},
     "transform":[{"filter":"datum.panel == 'e'"},
       {"calculate":"indexof(['I11','I12','I13','I14','I15','O11','O12','O21'], datum.axis)","as":"idx"},
       {"calculate":"(datum.value - 0.5) / 0.5","as":"r"},
       {"calculate":"datum.r * sin(datum.idx * PI / 4)","as":"px"},
       {"calculate":"datum.r * cos(datum.idx * PI / 4)","as":"py"}],
     "layer":[
       {"transform":[{"filter":"datum.series != 'Average'"}],"mark":{"type":"line","interpolate":"linear-closed","color":"#D01C1F","strokeWidth":2.4},"encoding":{"order":{"field":"idx","type":"quantitative"}}},
       {"transform":[{"filter":"datum.series != 'Average'"}],"mark":{"type":"point","shape":"square","filled":true,"size":45,"color":"#D01C1F","opacity":1}},
       {"transform":[{"filter":"datum.series == 'Average'"}],"mark":{"type":"line","interpolate":"linear-closed","color":"#1414F0","strokeWidth":2.5},"encoding":{"order":{"field":"idx","type":"quantitative"}}},
       {"transform":[{"filter":"datum.series == 'Average'"}],"mark":{"type":"point","shape":"triangle-up","filled":true,"size":170,"color":"#1414F0","opacity":1}}
     ]},
    {"data":{"values":[{"bundle":"Bundle 5","average":"Average","tag":"(e)"}]},
     "transform":[{"calculate":"0.434","as":"k1"},{"calculate":"0.7","as":"k2"},{"calculate":"0.566","as":"km"},{"calculate":"0.723","as":"kt"},
       {"calculate":"1.15","as":"kb"},{"calculate":"1.012","as":"ka"},{"calculate":"-1.054","as":"kx"},{"calculate":"1.036","as":"ky"}],
     "layer":[
       {"mark":{"type":"rule","color":"#D01C1F","strokeWidth":2.5},"encoding":{"x":{"field":"k1","type":"quantitative","axis":null},"x2":{"field":"k2"},"y":{"field":"kb","type":"quantitative","axis":null}}},
       {"mark":{"type":"point","shape":"square","filled":true,"size":100,"color":"#D01C1F","opacity":1},"encoding":{"x":{"field":"km","type":"quantitative","axis":null},"y":{"field":"kb","type":"quantitative","axis":null}}},
       {"mark":{"type":"text","align":"left","baseline":"middle","font":"Liberation Serif","fontSize":18,"color":"black"},"encoding":{"x":{"field":"kt","type":"quantitative","axis":null},"y":{"field":"kb","type":"quantitative","axis":null},"text":{"field":"bundle","type":"nominal"}}},
       {"mark":{"type":"rule","color":"#1414F0","strokeWidth":2.5},"encoding":{"x":{"field":"k1","type":"quantitative","axis":null},"x2":{"field":"k2"},"y":{"field":"ka","type":"quantitative","axis":null}}},
       {"mark":{"type":"point","shape":"triangle-up","filled":true,"size":150,"color":"#1414F0","opacity":1},"encoding":{"x":{"field":"km","type":"quantitative","axis":null},"y":{"field":"ka","type":"quantitative","axis":null}}},
       {"mark":{"type":"text","align":"left","baseline":"middle","font":"Liberation Serif","fontSize":18,"color":"black"},"encoding":{"x":{"field":"kt","type":"quantitative","axis":null},"y":{"field":"ka","type":"quantitative","axis":null},"text":{"field":"average","type":"nominal"}}},
       {"mark":{"type":"text","align":"center","baseline":"middle","font":"Liberation Serif","fontSize":23,"color":"black"},"encoding":{"x":{"field":"kx","type":"quantitative","axis":null},"y":{"field":"ky","type":"quantitative","axis":null},"text":{"field":"tag","type":"nominal"}}}
     ]}
   ]}
 ], "spacing": 0, "bounds": "flush"},
 {"hconcat": [
  {"width": 68, "height": 364, "data": {"values": []}, "mark": "point", "encoding": {}},
  {"width": 1123, "height": 364,
   "view": {"stroke": "black", "strokeWidth": 3, "fill": "transparent"},
   "data": {"name": "bars"},
   "layer": [
    {"encoding": {
       "x": {"field":"bundle","type":"nominal","title":null,"scale":{"paddingInner":0.145,"paddingOuter":0.0725},
             "axis":{"labelAngle":0,"labelFont":"Liberation Serif","labelFontSize":25,"labelColor":"black","labelPadding":13,"tickSize":-6,"tickWidth":2,"tickColor":"black","domain":false}},
       "xOffset": {"field":"category","type":"nominal","sort":["Labor","Water","Food","Energy","Capital","Economic","Social","Environmental"],"scale":{"paddingInner":0,"paddingOuter":0}},
       "y": {"field":"value","type":"quantitative","title":null,"scale":{"domain":[-0.55,0.6],"nice":false,"zero":false},
             "axis":{"values":[-0.4,-0.2,0,0.2,0.4,0.6],"format":".1f","labelFont":"Liberation Serif","labelFontSize":24,"labelColor":"black","labelPadding":11,"tickSize":-6,"tickWidth":2,"tickColor":"black","domain":false,"grid":false}}
     },
     "layer": [
      {"mark":{"type":"bar","stroke":"black","strokeWidth":1.3},
       "encoding":{"color":{"field":"category","type":"nominal",
          "scale":{"domain":["Labor","Water","Food","Energy","Capital","Economic","Social","Environmental"],
                   "range":["#E8BD89","#A1D18F","#B09ECB","#FDFD9B","#97A8EE","#E5A5F2","#A2A77F","#B9DCE4"]},
          "legend":{"title":null,"orient":"none","legendX":102,"legendY":1223,"direction":"horizontal","columns":8,
                    "symbolType":"M-1,-0.46H1V0.46H-1Z","symbolSize":2304,"symbolStrokeColor":"black","symbolStrokeWidth":1.5,
                    "labelFont":"Liberation Serif","labelFontSize":21,"labelColor":"black","labelOffset":3,"columnPadding":3,"padding":0}}}},
      {"transform":[{"filter":"datum.value >= 0"}],
       "mark":{"type":"text","angle":-90,"align":"left","baseline":"middle","dx":3,"font":"Liberation Serif","fontSize":20,"color":"black"},
       "encoding":{"text":{"field":"value","type":"quantitative","format":".2f"}}},
      {"transform":[{"filter":"datum.value < 0"}],
       "mark":{"type":"text","angle":-90,"align":"right","baseline":"middle","dx":-4,"font":"Liberation Serif","fontSize":20,"color":"black"},
       "encoding":{"text":{"field":"value","type":"quantitative","format":".2f"}}}
     ]},
    {"data":{"values":[{}]},"mark":{"type":"rule","color":"black","strokeWidth":3},"encoding":{"y":{"datum":0}}},
    {"data":{"values":[{"tag":"(f)"}]},"mark":{"type":"text","align":"center","baseline":"middle","font":"Liberation Serif","fontSize":23,"color":"black"},
     "encoding":{"x":{"datum":"Bundle1"},"xOffset":{"datum":"Labor"},"y":{"datum":0.505},"text":{"field":"tag","type":"nominal"}}}
   ]}
 ], "spacing": 0, "bounds": "flush"}
]
}
